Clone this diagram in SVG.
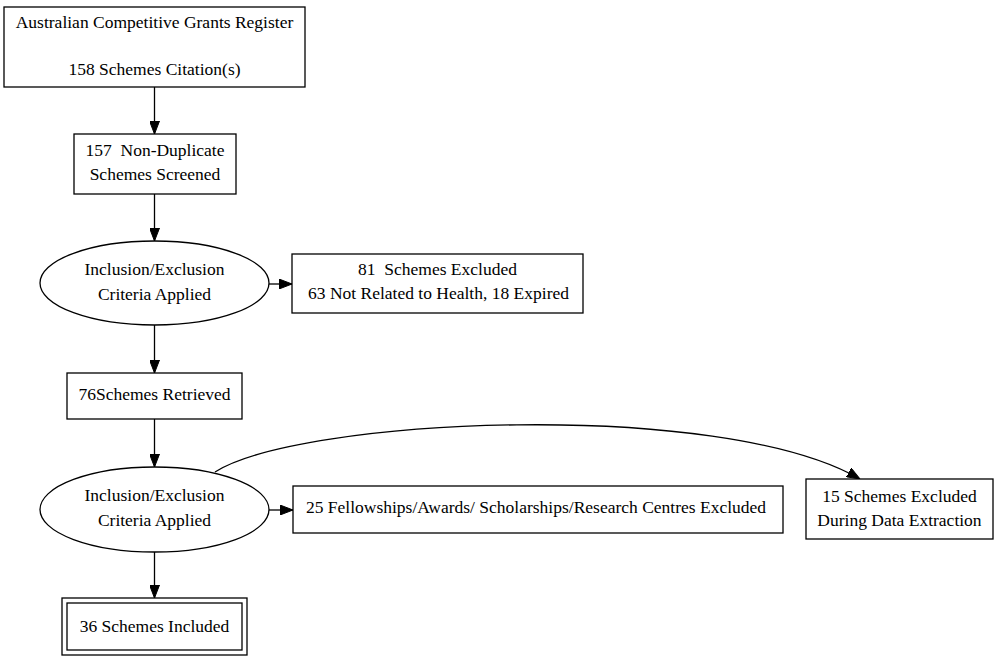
<svg xmlns="http://www.w3.org/2000/svg" width="997" height="656" viewBox="0 0 997 656">
<style>
  .box { fill: #ffffff; stroke: #000000; stroke-width: 1.3; }
  .edge { fill: none; stroke: #000000; stroke-width: 1.3; }
  text { font-family: "Liberation Serif", "Times New Roman", serif; font-size: 17.5px; fill: #000000; text-anchor: middle; white-space: pre; }
</style>
<defs>
  <marker id="arrow" viewBox="0 0 13 10" refX="13" refY="5" markerWidth="13" markerHeight="10" markerUnits="userSpaceOnUse" orient="auto">
    <path d="M0,0 L13,5 L0,10 z" fill="#000000" stroke="#000000" stroke-width="1"/>
  </marker>
</defs>
<rect width="997" height="656" fill="#ffffff"/>

<g id="connectors">
  <line class="edge" x1="154.5" y1="87" x2="154.5" y2="134" marker-end="url(#arrow)"/>
  <line class="edge" x1="154.5" y1="194" x2="154.5" y2="241" marker-end="url(#arrow)"/>
  <line class="edge" x1="269" y1="284" x2="292" y2="284" marker-end="url(#arrow)"/>
  <line class="edge" x1="154.5" y1="325" x2="154.5" y2="373" marker-end="url(#arrow)"/>
  <line class="edge" x1="154.5" y1="419" x2="154.5" y2="467" marker-end="url(#arrow)"/>
  <line class="edge" x1="269" y1="510" x2="293" y2="510" marker-end="url(#arrow)"/>
  <line class="edge" x1="154.5" y1="552" x2="154.5" y2="598" marker-end="url(#arrow)"/>
  <path class="edge" d="M215,472 C300,418 720,398 860,479" marker-end="url(#arrow)"/>
</g>

<g id="node-register">
  <rect class="box" x="4" y="7" width="301" height="80"/>
  <text x="154.5" y="28">Australian Competitive Grants Register</text>
  <text x="154.5" y="75">158 Schemes Citation(s)</text>
</g>

<g id="node-nondup">
  <rect class="box" x="74" y="134" width="162" height="60"/>
  <text x="155" y="156">157  Non-Duplicate</text>
  <text x="155" y="180">Schemes Screened</text>
</g>

<g id="node-criteria1">
  <ellipse class="box" cx="154.5" cy="283" rx="114.5" ry="42"/>
  <text x="154.5" y="275">Inclusion/Exclusion</text>
  <text x="154.5" y="300">Criteria Applied</text>
</g>

<g id="node-excluded81">
  <rect class="box" x="292" y="254" width="291" height="59"/>
  <text x="437.5" y="275">81  Schemes Excluded</text>
  <text x="438.5" y="299">63 Not Related to Health, 18 Expired</text>
</g>

<g id="node-retrieved">
  <rect class="box" x="67" y="373" width="175" height="46"/>
  <text x="154.5" y="400">76Schemes Retrieved</text>
</g>

<g id="node-criteria2">
  <ellipse class="box" cx="154.5" cy="509.5" rx="114.5" ry="42.5"/>
  <text x="154.5" y="501">Inclusion/Exclusion</text>
  <text x="154.5" y="526">Criteria Applied</text>
</g>

<g id="node-excluded25">
  <rect class="box" x="293" y="486" width="490" height="47"/>
  <text x="536" y="513">25 Fellowships/Awards/ Scholarships/Research Centres Excluded</text>
</g>

<g id="node-excluded15">
  <rect class="box" x="806" y="479" width="187" height="60"/>
  <text x="899.5" y="502">15 Schemes Excluded</text>
  <text x="899.5" y="526">During Data Extraction</text>
</g>

<g id="node-included">
  <rect class="box" x="62" y="598" width="185" height="57"/>
  <rect class="box" x="67" y="603" width="175" height="47"/>
  <text x="154.5" y="632">36 Schemes Included</text>
</g>
</svg>
